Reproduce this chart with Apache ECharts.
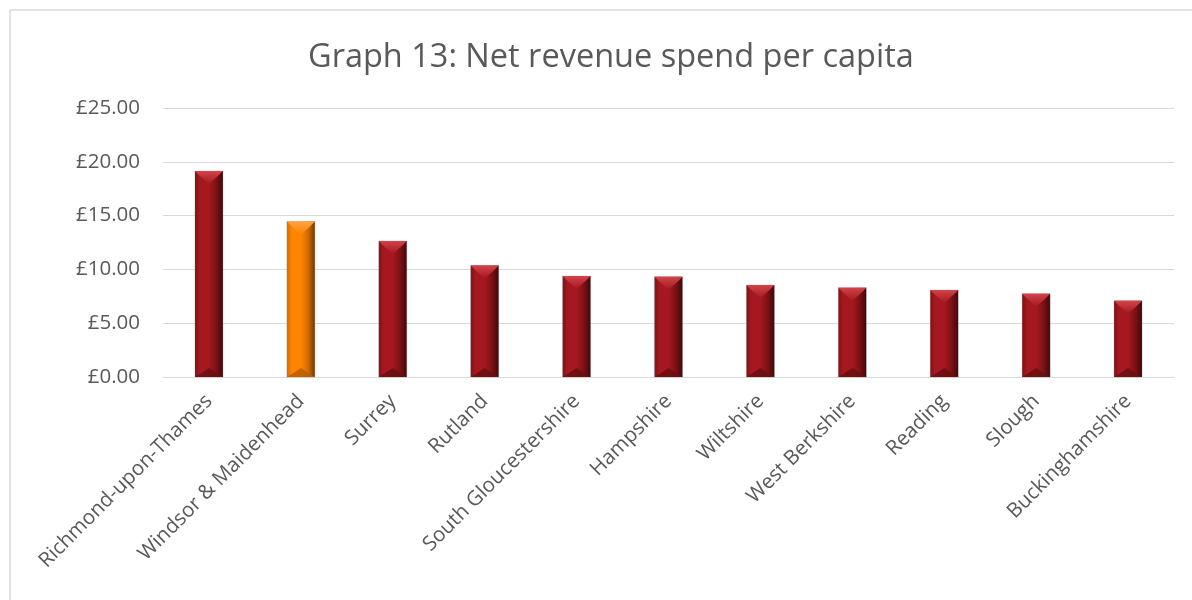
<!DOCTYPE html>
<html>
<head>
<meta charset="utf-8">
<script src="https://cdn.jsdelivr.net/npm/echarts@6/dist/echarts.min.js"></script>
<style>
  html, body { margin: 0; padding: 0; background: #ffffff; }
  #chart { width: 1192px; height: 600px; }
</style>
</head>
<body>
<div id="chart"></div>
<script>
// Net revenue spend per capita by authority (£)
const authorities = [
  'Richmond-upon-Thames', 'Windsor & Maidenhead', 'Surrey', 'Rutland',
  'South Gloucestershire', 'Hampshire', 'Wiltshire', 'West Berkshire',
  'Reading', 'Slough', 'Buckinghamshire'
];
const spendPerCapita = [19.14, 14.46, 12.64, 10.37, 9.39, 9.32, 8.55, 8.30, 8.09, 7.74, 7.09];
const highlighted = 'Windsor & Maidenhead';

// Bevel palettes: face, left edge, right edge, top facet, bottom facet
const palettes = {
  normal: { face: '#a5181f', left: '#7d1116', right: '#3f0709', top: '#d2444a', bottom: '#6a0e12' },
  accent: { face: '#ff8400', left: '#d46c00', right: '#6e3600', top: '#ffa446', bottom: '#b85c00' }
};

const FONT = '"Open Sans", sans-serif';
const chart = echarts.init(document.getElementById('chart'));

function renderBevelBar(params, api) {
  const idx = api.value(0);
  const val = api.value(1);
  const top = api.coord([idx, val]);
  const base = api.coord([idx, 0]);
  const w = 28;
  const x0 = top[0] - w / 2, x1 = top[0] + w / 2;
  const y0 = top[1], y1 = base[1];
  const p = authorities[idx] === highlighted ? palettes.accent : palettes.normal;
  const edge = 5;
  const facet = Math.min(13, (y1 - y0) / 2);
  const mid = top[0];
  return {
    type: 'group',
    children: [
      {
        type: 'rect',
        shape: { x: x0, y: y0, width: w, height: y1 - y0 },
        style: {
          fill: new echarts.graphic.LinearGradient(0, 0, 1, 0, [
            { offset: 0, color: p.left },
            { offset: 0.18, color: p.face },
            { offset: 0.5, color: p.face },
            { offset: 0.75, color: p.left },
            { offset: 1, color: p.right }
          ]),
          stroke: 'rgba(120,120,120,0.35)',
          lineWidth: 0.6
        }
      },
      {
        type: 'polygon',
        shape: { points: [[x0, y0], [x1, y0], [x1 - edge, y0 + edge], [mid, y0 + facet], [x0 + edge, y0 + edge]] },
        style: {
          fill: new echarts.graphic.LinearGradient(0, 0, 0, 1, [
            { offset: 0, color: p.top },
            { offset: 1, color: p.face }
          ])
        }
      },
      {
        type: 'polygon',
        shape: { points: [[x0, y1], [x1, y1], [x1 - edge, y1 - 3], [mid, y1 - 9], [x0 + edge, y1 - 3]] },
        style: { fill: p.bottom, opacity: 0.85 }
      }
    ]
  };
}

chart.setOption({
  backgroundColor: '#ffffff',
  animation: false,
  title: {
    text: 'Graph 13: Net revenue spend per capita',
    left: 303,
    top: 36,
    textStyle: { fontFamily: FONT, fontSize: 32.5, fontWeight: 'normal', color: '#595959' }
  },
  graphic: [{
    type: 'rect',
    shape: { x: 10, y: 10, width: 1200, height: 600 },
    style: { fill: 'none', stroke: '#d9d9d9', lineWidth: 1.5 },
    silent: true,
    z: -1
  }],
  grid: { left: 163, right: 18, top: 108, bottom: 223, containLabel: false },
  xAxis: {
    type: 'category',
    data: authorities,
    axisLine: { show: true, lineStyle: { color: '#d9d9d9', width: 1 } },
    axisTick: { show: false },
    axisLabel: {
      rotate: 45,
      interval: 0,
      margin: 21,
      fontFamily: FONT,
      fontSize: 20.5,
      color: '#595959'
    }
  },
  yAxis: {
    type: 'value',
    min: 0,
    max: 25,
    interval: 5,
    axisLine: { show: false },
    axisTick: { show: false },
    splitLine: { lineStyle: { color: '#d9d9d9', width: 1 } },
    axisLabel: {
      margin: 23,
      fontFamily: FONT,
      fontSize: 20.5,
      color: '#595959',
      formatter: v => '£' + v.toFixed(2)
    }
  },
  series: [{
    type: 'custom',
    renderItem: renderBevelBar,
    encode: { x: 0, y: 1 },
    data: spendPerCapita.map((v, i) => [i, v])
  }]
});
</script>
</body>
</html>
